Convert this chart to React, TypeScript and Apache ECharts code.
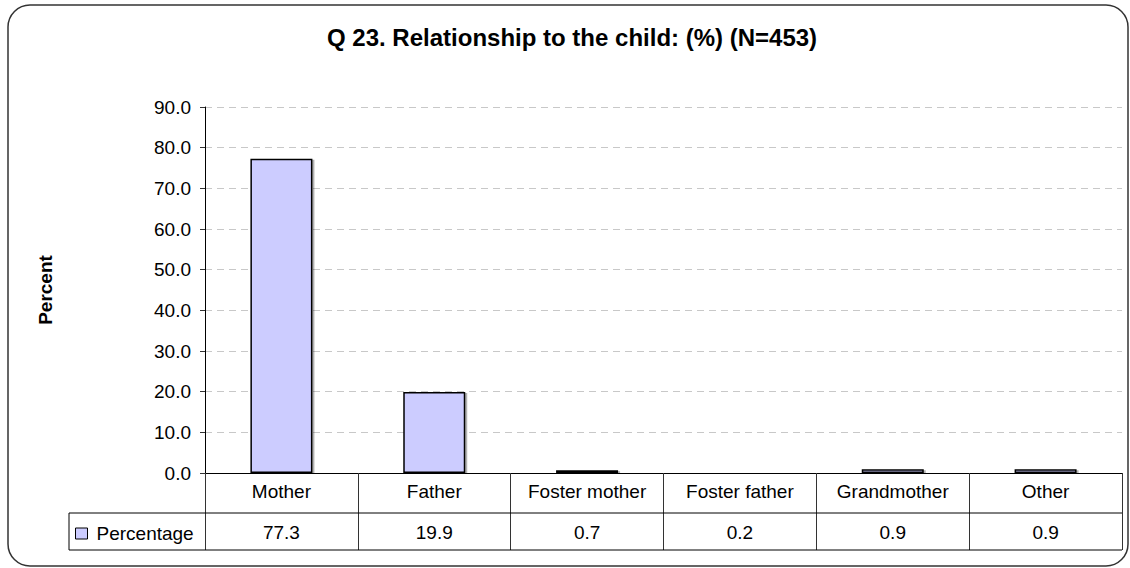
import React, { useEffect, useRef } from "react";
import * as echarts from "echarts";

const categories = ["Mother", "Father", "Foster mother", "Foster father", "Grandmother", "Other"];
const percentages = [77.3, 19.9, 0.7, 0.2, 0.9, 0.9];
const seriesName = "Percentage";
const titleText = "Q 23. Relationship to the child: (%) (N=453)";
const yAxisName = "Percent";

const FONT = "'Liberation Sans', Arial, sans-serif";

export default function App() {
  const ref = useRef<HTMLDivElement>(null);
  useEffect(() => {
    if (!ref.current) return;
    const chart = echarts.init(ref.current, null, { renderer: "svg" });
    const left = 205, right = 1122, bottom = 473, top = 107;
    chart.setOption({
      animation: false,
      backgroundColor: "#fff",
      textStyle: { fontFamily: FONT },
      title: {
        text: titleText,
        left: 327,
        top: 25,
        padding: 0,
        textStyle: { fontFamily: FONT, fontSize: 24, fontWeight: "bold", color: "#000" },
      },
      legend: {
        data: [seriesName],
        left: 75,
        top: 524,
        padding: 0,
        itemWidth: 12,
        itemHeight: 11,
        icon: "rect",
        itemStyle: { color: "#CCCCFF", borderColor: "#000", borderWidth: 1 },
        textStyle: { fontFamily: FONT, fontSize: 19, color: "#000", padding: [0, 0, 0, 4] },
      },
      grid: { left: left, right: 1130 - right, top: top, bottom: 568 - bottom },
      xAxis: {
        type: "category",
        data: categories,
        axisLine: { show: true, lineStyle: { color: "#000", width: 1 } },
        axisTick: { show: true, length: 77, lineStyle: { color: "#333", width: 1 } },
        axisLabel: {
          margin: 0,
          interval: 0,
          formatter: (v: string, i: number) => `{a|${v}}\n{b|${percentages[i].toFixed(1)}}`,
          rich: {
            a: { fontFamily: FONT, fontSize: 19, color: "#000", lineHeight: 36 },
            b: { fontFamily: FONT, fontSize: 19, color: "#000", lineHeight: 46 },
          },
        },
      },
      yAxis: {
        type: "value",
        min: 0,
        max: 90,
        interval: 10,
        name: yAxisName,
        nameLocation: "middle",
        nameRotate: 90,
        nameGap: 150,
        nameTextStyle: { fontFamily: FONT, fontSize: 19, fontWeight: "bold", color: "#000" },
        axisLine: { show: true, lineStyle: { color: "#000", width: 1 } },
        axisTick: { show: true, length: 5, lineStyle: { color: "#333" } },
        axisLabel: {
          margin: 14,
          fontFamily: FONT,
          fontSize: 19,
          color: "#000",
          formatter: (v: number) => v.toFixed(1),
        },
        splitLine: { show: true, lineStyle: { color: "#C8C8C8", type: [7, 5], width: 1 } },
      },
      series: [
        {
          name: seriesName,
          type: "bar",
          data: percentages,
          barWidth: 62,
          itemStyle: {
            color: "#CCCCFF",
            borderColor: "#000",
            borderWidth: 1.5,
            shadowColor: "rgba(0,0,0,0.3)",
            shadowOffsetX: 2,
            shadowOffsetY: 1,
            shadowBlur: 0,
          },
        },
      ],
      graphic: [
        {
          type: "rect",
          shape: { x: 8, y: 5, width: 1120, height: 561, r: 22 },
          style: { fill: "none", stroke: "#333", lineWidth: 1.5 },
          z: 0,
        },
        {
          type: "polyline",
          shape: { points: [[right, 513], [69, 513], [69, 550], [right, 550]] },
          style: { fill: "none", stroke: "#000", lineWidth: 1 },
          z: 10,
        },
      ],
    });
    return () => chart.dispose();
  }, []);
  return (
    <div
      ref={ref}
      style={{ position: "absolute", left: 0, top: 0, width: 1130, height: 568 }}
    />
  );
}
